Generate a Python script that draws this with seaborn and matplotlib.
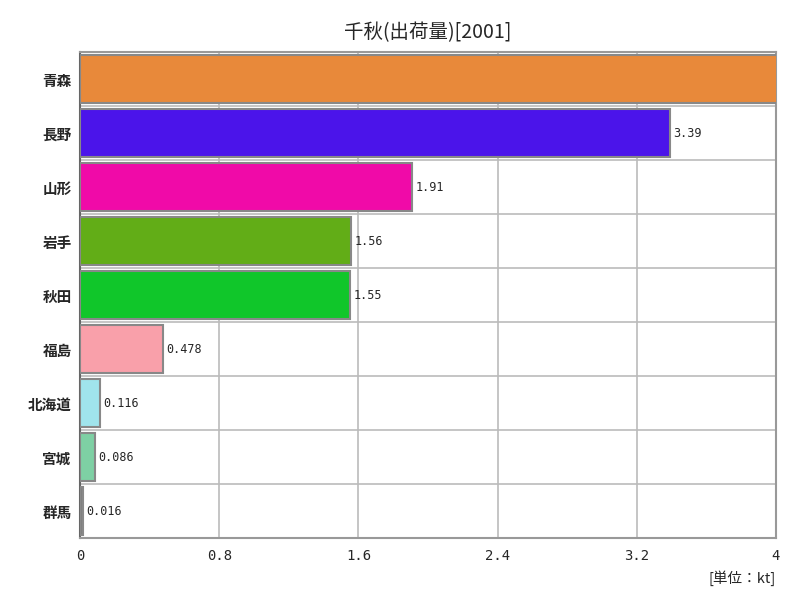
import matplotlib
matplotlib.use("Agg")
import pandas as pd
import seaborn as sns
import matplotlib.pyplot as plt

# Values (kt); Aomori runs past the axis limit
prefectures = ["青森", "長野", "山形", "岩手", "秋田", "福島", "北海道", "宮城", "群馬"]
shipments = [4.6, 3.39, 1.91, 1.56, 1.55, 0.478, 0.116, 0.086, 0.016]
labels = ["", "3.39", "1.91", "1.56", "1.55", "0.478", "0.116", "0.086", "0.016"]
colors = ["#E8893A", "#4B14EA", "#F00AA8", "#62AD17", "#10C62A",
          "#F9A0AA", "#A0E4EC", "#7ED0A4", "#808080"]
xticks = [0, 0.8, 1.6, 2.4, 3.2, 4]
xtick_labels = ["0", "0.8", "1.6", "2.4", "3.2", "4"]

df = pd.DataFrame({"pref": prefectures, "value": shipments})

sns.set_style("white")
plt.rcParams["font.family"] = ["Noto Sans CJK JP", "DejaVu Sans"]

fig = plt.figure(figsize=(8, 6), dpi=100)
ax = fig.add_axes([0.1, 0.1033, 0.87, 0.81])

sns.barplot(data=df, x="value", y="pref", hue="pref", palette=colors,
            saturation=1, orient="h", width=0.9, edgecolor="#888888",
            linewidth=1.5, legend=False, ax=ax, zorder=3)

ax.set_xlim(0, 4)
ax.set_ylim(len(prefectures) - 0.5, -0.5)
ax.set_xticks(xticks)
ax.set_xticklabels(xtick_labels, fontsize=10, family=["DejaVu Sans Mono"])
ax.tick_params(axis="y", labelsize=10.5, length=0, pad=6)
ax.tick_params(axis="x", length=0, pad=8)
for t in ax.get_yticklabels():
    t.set_fontweight("bold")

# grid: vertical at ticks, horizontal at category boundaries
for x in xticks[1:-1]:
    ax.axvline(x, color="#BBBBBB", lw=1.2, zorder=1)
for i in range(1, len(prefectures)):
    ax.axhline(i - 0.5, color="#BBBBBB", lw=1.2, zorder=1)

for i, (v, lab) in enumerate(zip(shipments, labels)):
    if lab and v < 4:
        ax.text(v + 0.02, i, lab, va="center", ha="left", fontsize=8.5,
                family=["DejaVu Sans Mono"], zorder=4)

for side in ["top", "right", "bottom"]:
    ax.spines[side].set_color("#999999")
ax.spines["left"].set_color("#666666")
for s in ax.spines.values():
    s.set_linewidth(1.5)

ax.set_xlabel("")
ax.set_ylabel("")
ax.set_title("千秋(出荷量)[2001]", fontsize=14, pad=10)
fig.text(0.97, 0.037, "[単位：kt]", ha="right", va="center", fontsize=10.5)

fig.savefig("out.png", dpi=100)
